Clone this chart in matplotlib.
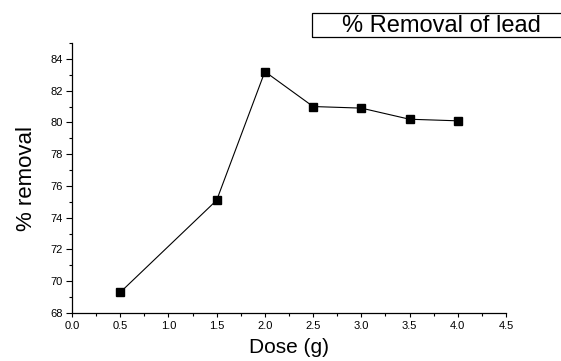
import matplotlib
matplotlib.use("Agg")
import matplotlib.pyplot as plt
from matplotlib.ticker import MultipleLocator
from matplotlib.patches import Rectangle

plt.rcParams['font.family'] = ['Liberation Sans', 'DejaVu Sans']

dose = [0.5, 1.5, 2.0, 2.5, 3.0, 3.5, 4.0]
removal = [69.3, 75.1, 83.2, 81.0, 80.9, 80.2, 80.1]
x_ticks = [0.0, 0.5, 1.0, 1.5, 2.0, 2.5, 3.0, 3.5, 4.0, 4.5]
x_ticklabels = ['0.0', '0.5', '1.0', '1.5', '2.0', '2.5', '3.0', '3.5', '4.0', '4.5']
y_ticks = [68, 70, 72, 74, 76, 78, 80, 82, 84]

W, H = 561, 361
fig = plt.figure(figsize=(W / 100, H / 100), dpi=100)
L, R, T, B = 72, 506, 43, 313
ax = fig.add_axes([L / W, 1 - B / H, (R - L) / W, (B - T) / H])
ax.plot(dose, removal, color='black', lw=0.8, marker='s', ms=5.5, mfc='black', mec='black')
ax.set_xlim(0, 4.5)
ax.set_ylim(68, 85)
ax.set_xticks(x_ticks)
ax.set_xticklabels(x_ticklabels)
ax.xaxis.set_minor_locator(MultipleLocator(0.25))
ax.set_yticks(y_ticks)
ax.yaxis.set_minor_locator(MultipleLocator(1))
ax.spines['top'].set_visible(False)
ax.spines['right'].set_visible(False)
for s in ('left', 'bottom'):
    ax.spines[s].set_linewidth(0.9)
ax.tick_params(axis='y', which='major', direction='out', length=4.5, width=0.8, labelsize=8, pad=2)
ax.tick_params(axis='y', which='minor', direction='out', length=2.2, width=0.8)
ax.tick_params(axis='x', which='major', direction='out', length=3, width=0.8, labelsize=8, pad=3)
ax.tick_params(axis='x', which='minor', direction='out', length=1.8, width=0.8)
ax.set_xlabel('Dose (g)', fontsize=15, labelpad=5)
ax.set_ylabel('% removal', fontsize=16, labelpad=10)

fig.patches.append(Rectangle((312 / W, 1 - 37 / H), (W + 10 - 312) / W, 24 / H,
                             transform=fig.transFigure, fill=False, ec='black', lw=0.9))
fig.text(441 / W, 1 - 25.5 / H, '% Removal of lead', fontsize=17, ha='center', va='center')

fig.savefig('out.png', dpi=100)
